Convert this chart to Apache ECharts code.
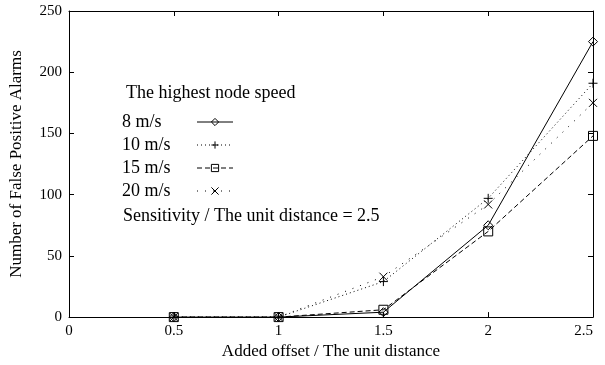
<!DOCTYPE html>
<html>
<head>
<meta charset="utf-8">
<script src="https://cdn.jsdelivr.net/npm/echarts@6/dist/echarts.min.js"></script>
<style>html,body{margin:0;padding:0;background:#fff}#c{width:605px;height:365px}</style>
</head>
<body>
<div id="c"></div>
<script>
const xValues = [0.5, 1, 1.5, 2, 2.5];
const seriesNames = ['8 m/s', '10 m/s', '15 m/s', '20 m/s'];
const s8 = [0, 0, 4, 75, 225];
const s10 = [0, 0, 29, 97, 191];
const s15 = [0, 0, 6, 70, 148];
const s20 = [0, 0, 33, 92, 175];
const xTicks = [0, 0.5, 1, 1.5, 2, 2.5];
const yTicks = [0, 50, 100, 150, 200, 250];
const legendTitle = 'The highest node speed';
const noteText = 'Sensitivity / The unit distance = 2.5';
const xName = 'Added offset / The unit distance';
const yName = 'Number of False Positive Alarms';

const FONT = 'Liberation Serif';
const plus = 'path://M5,0L5,10M0,5L10,5';
const cross = 'path://M0,0L10,10M10,0L0,10';
const styles = [
  {data: s8, symbol: 'diamond', size: 9, dash: 'solid'},
  {data: s10, symbol: plus, size: 9, dash: [1, 3]},
  {data: s15, symbol: 'rect', size: 9, dash: [5, 3]},
  {data: s20, symbol: cross, size: 8, dash: [1, 7]}
];

const series = styles.map((st, i) => ({
  name: seriesNames[i],
  type: 'line',
  xAxisIndex: 0, yAxisIndex: 0,
  data: xValues.map((x, j) => [x, st.data[j]]),
  symbol: st.symbol,
  symbolSize: st.size,
  showAllSymbol: true,
  lineStyle: {color: '#000', width: 1, type: st.dash},
  itemStyle: {color: 'none', borderColor: '#000', borderWidth: 1},
  emphasis: {disabled: true},
  animation: false
}));
// empty helper series so the mirrored top/right axes are drawn
series.push({type: 'line', xAxisIndex: 1, yAxisIndex: 1, data: [], silent: true});

const axisCommon = {
  axisLine: {show: true, onZero: false, lineStyle: {color: '#000', width: 1}},
  axisTick: {show: true, inside: true, length: 5, lineStyle: {color: '#000', width: 1}},
  splitLine: {show: false}
};

const chart = echarts.init(document.getElementById('c'), null, {renderer: 'canvas'});
chart.setOption({
  backgroundColor: '#fff',
  animation: false,
  textStyle: {fontFamily: FONT},
  grid: {left: 68, right: 12, top: 11, bottom: 45},
  title: [
    {text: legendTitle, left: 126, top: 84, padding: 0, textStyle: {fontFamily: FONT, fontSize: 18, fontWeight: 'normal', color: '#000'}},
    {text: noteText, left: 123, top: 207, padding: 0, textStyle: {fontFamily: FONT, fontSize: 18, fontWeight: 'normal', color: '#000'}}
  ],
  legend: {
    orient: 'vertical', left: 122, top: 113, align: 'right', padding: 0,
    itemWidth: 36, itemHeight: 9, itemGap: 5,
    data: seriesNames,
    lineStyle: {width: 1},
    itemStyle: {borderWidth: 1},
    formatter: '{a|{name}}',
    textStyle: {
      fontFamily: FONT, fontSize: 18, color: '#000',
      rich: {a: {fontFamily: FONT, fontSize: 18, color: '#000', width: 70, align: 'left'}}
    },
    selectedMode: false
  },
  xAxis: [
    Object.assign({}, axisCommon, {
      type: 'value', min: xTicks[0], max: xTicks[xTicks.length - 1], interval: 0.5,
      position: 'bottom',
      name: xName, nameLocation: 'middle', nameGap: 23,
      nameTextStyle: {fontFamily: FONT, fontSize: 17, color: '#000'},
      axisLabel: {fontFamily: FONT, fontSize: 15, color: '#000', margin: 6, alignMaxLabel: 'right'}
    }),
    Object.assign({}, axisCommon, {
      type: 'value', min: xTicks[0], max: xTicks[xTicks.length - 1], interval: 0.5,
      position: 'top', axisLabel: {show: false}
    })
  ],
  yAxis: [
    Object.assign({}, axisCommon, {
      type: 'value', min: yTicks[0], max: yTicks[yTicks.length - 1], interval: 50,
      position: 'left',
      name: yName, nameLocation: 'middle', nameGap: 44,
      nameTextStyle: {fontFamily: FONT, fontSize: 17, color: '#000'},
      axisLabel: {fontFamily: FONT, fontSize: 15, color: '#000', margin: 7}
    }),
    Object.assign({}, axisCommon, {
      type: 'value', min: yTicks[0], max: yTicks[yTicks.length - 1], interval: 50,
      position: 'right', axisLabel: {show: false}
    })
  ],
  series: series
});
</script>
</body>
</html>
